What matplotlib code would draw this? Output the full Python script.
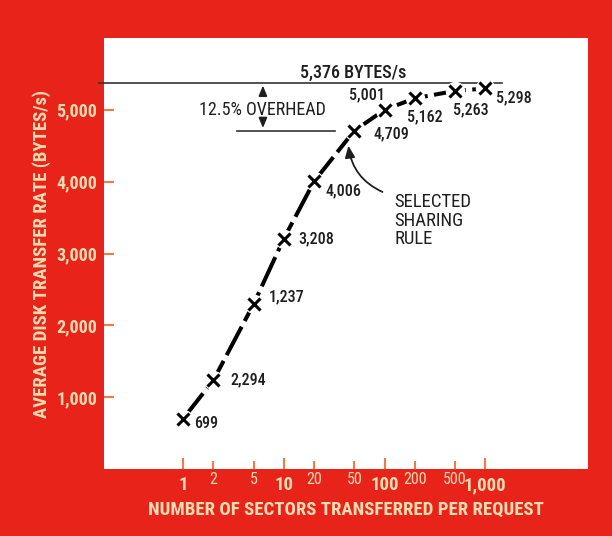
import matplotlib
matplotlib.use("Agg")
import matplotlib.pyplot as plt
from matplotlib.ticker import FixedLocator, FixedFormatter

# sectors per request vs. average transfer rate
sectors = [1, 2, 5, 10, 20, 50, 100, 200, 500, 1000]
rates = [699, 1237, 2294, 3208, 4006, 4709, 5001, 5162, 5263, 5298]
# labels as printed next to each point (2 and 5 are swapped in the original)
point_labels = ["699", "2,294", "1,237", "3,208", "4,006", "4,709", "5,001", "5,162", "5,263", "5,298"]
label_offsets = [(11, -5), (17, 0), (15, 7), (15, 0), (11, -10), (19, -3), (-36, 15), (-8, -19), (-2, -19), (11, -9)]

major_ticks = [1, 10, 100, 1000]
major_labels = ["1", "10", "100", "1,000"]
minor_ticks = [2, 5, 20, 50, 200, 500]
minor_labels = ["2", "5", "20", "50", "200", "500"]
y_ticks = [1000, 2000, 3000, 4000, 5000]
y_labels = ["1,000", "2,000", "3,000", "4,000", "5,000"]

peak = 5376
selected = 4709

red = "#e8231a"
cream = "#f6dcb0"
tick_col = "#f07a4a"
ink = "#1e1e1e"
plt.rcParams["font.family"] = ["Roboto Condensed", "DejaVu Sans"]

fig = plt.figure(figsize=(6.12, 5.36), dpi=100, facecolor=red)
ax = fig.add_axes([0.170, 0.125, 0.791, 0.804])
ax.set_facecolor("white")
for s in ax.spines.values():
    s.set_visible(False)

ax.set_xscale("log")
ax.set_xlim(0.164, 10500)
ax.set_ylim(0, 6000)

# curve
ax.plot(sectors, rates, color="black", lw=2.9, dashes=(8, 1.6), solid_capstyle="butt", zorder=2)
ax.plot(sectors, rates, ls="none", marker="o", ms=13, mfc="white", mec="white", zorder=3)
ax.plot(sectors, rates, ls="none", marker="x", ms=8, mew=2.2, color="black", zorder=4)

for x, y, t, off in zip(sectors, rates, point_labels, label_offsets):
    ax.annotate(t, (x, y), xytext=off, textcoords="offset pixels", ha="left", va="center",
                fontsize=11.5, color=ink, fontweight="medium")

# peak and overhead lines
ax.plot([0.147, 1472], [peak, peak], color="#333333", lw=1.2, clip_on=False, zorder=1)
ax.plot([3.4, 32.3], [selected, selected], color="#333333", lw=1.2, zorder=1)
ax.text(48.8, 5518, "5,376 BYTES/s", ha="center", va="center", fontsize=13, color=ink, fontweight="medium")
ax.text(6.1, 5000, "12.5% OVERHEAD", ha="center", va="center", fontsize=13, color=ink)
ax.annotate("", xy=(6.2, peak), xytext=(6.2, peak - 160),
            arrowprops=dict(arrowstyle="-|>,head_length=0.6,head_width=0.25", color=ink, lw=1.2))
ax.annotate("", xy=(6.2, selected), xytext=(6.2, selected + 160),
            arrowprops=dict(arrowstyle="-|>,head_length=0.6,head_width=0.25", color=ink, lw=1.2))

ax.text(126, 3842, "SELECTED\nSHARING\nRULE", ha="left", va="top", fontsize=13.5,
        color=ink, linespacing=1.05)
ax.annotate("", xy=(43.5, 4539), xytext=(101, 3842),
            arrowprops=dict(arrowstyle="-|>,head_length=0.7,head_width=0.3", color=ink, lw=1.3,
                            connectionstyle="arc3,rad=-0.3"))

# ticks
ax.xaxis.set_major_locator(FixedLocator(major_ticks))
ax.xaxis.set_major_formatter(FixedFormatter(major_labels))
ax.xaxis.set_minor_locator(FixedLocator(minor_ticks))
ax.xaxis.set_minor_formatter(FixedFormatter(minor_labels))
ax.tick_params(axis="x", which="major", direction="in", length=8, width=1.5, color=tick_col,
               labelcolor=cream, labelsize=13.5, pad=5)
ax.tick_params(axis="x", which="minor", direction="in", length=6, width=1.5, color=tick_col,
               labelcolor=cream, labelsize=11.5, pad=2)
for t in ax.get_xticklabels():
    t.set_fontweight("bold")

ax.set_yticks(y_ticks)
ax.set_yticklabels(y_labels, fontweight="bold")
ax.tick_params(axis="y", direction="in", length=7, width=1.5, color=tick_col,
               labelcolor=cream, labelsize=13, pad=5)

ax.set_xlabel("NUMBER OF SECTORS TRANSFERRED PER REQUEST", color=cream, fontsize=13.5,
              fontweight="bold", labelpad=5)
ax.set_ylabel("AVERAGE DISK TRANSFER RATE (BYTES/s)", color=cream, fontsize=13.5,
              fontweight="bold", labelpad=4)

fig.savefig("out.png", dpi=100, facecolor=red)
